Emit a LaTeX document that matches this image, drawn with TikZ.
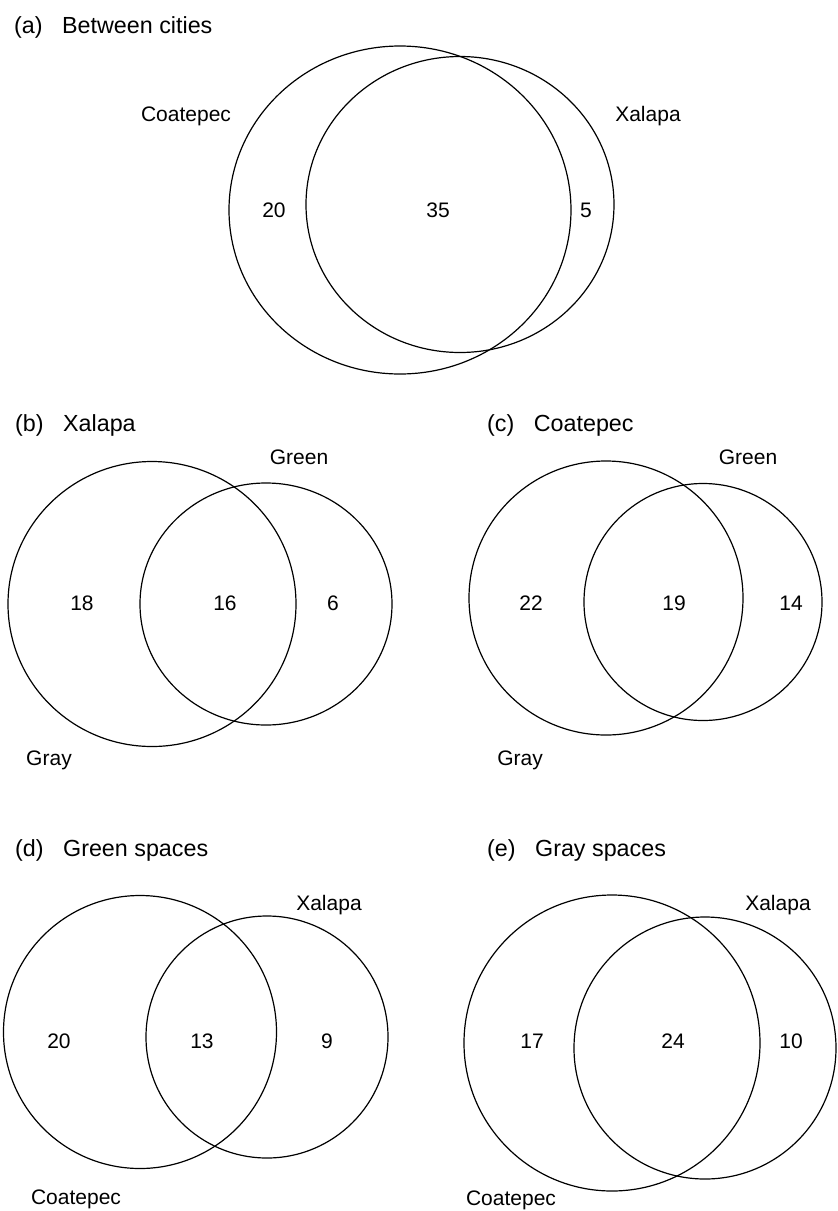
\documentclass[tikz,border=0pt]{standalone}
\usepackage{fontspec}
\setmainfont{Liberation Sans}
\usetikzlibrary{positioning}

\begin{document}
\begin{tikzpicture}[x=1pt, y=-1pt,
    set/.style={draw, line width=1.2pt},
    ttl/.style={anchor=base west, inner sep=0pt, font=\fontsize{23.3}{28}\selectfont},
    lbl/.style={anchor=base, inner sep=0pt, font=\fontsize{21}{25}\selectfont},
    num/.style={inner sep=0pt, font=\fontsize{21}{25}\selectfont}
]
\useasboundingbox (0,0) rectangle (838,1211);

% (a) between cities
\node[ttl] (ta) at (14,33) {(a)\hspace{19.5pt}Between cities};
\coordinate (aC) at (400,210);
\coordinate (aX) at (460,204.5);
\draw[set] (aC) ellipse [x radius=171pt, y radius=164pt];
\draw[set] (aX) ellipse [x radius=154pt, y radius=148pt];
\node[lbl] (aCl) at (186,121) {Coatepec};
\node[lbl] (aXl) at (648,121) {Xalapa};
\node[num] (aCn) at (274,210) {20};
\node[num] (aBn) at (438,210) {35};
\node[num] (aXn) at (586,210) {5};

% (b) Xalapa
\node[ttl] (tb) at (15,431) {(b)\hspace{19.5pt}Xalapa};
\coordinate (bG) at (152,604);
\coordinate (bV) at (266,604);
\draw[set] (bG) ellipse [x radius=144pt, y radius=142.5pt];
\draw[set] (bV) ellipse [x radius=126pt, y radius=121pt];
\node[lbl] (bVl) at (299,464) {Green};
\node[lbl] (bGl) at (49,765) {Gray};
\node[num] (bGn) at (82,603) {18};
\node[num] (bBn) at (225,603) {16};
\node[num] (bVn) at (333,603) {6};

% (c) Coatepec
\node[ttl] (tc) at (487,431) {(c)\hspace{19.5pt}Coatepec};
\coordinate (cG) at (606,598);
\coordinate (cV) at (703,602);
\draw[set] (cG) circle [radius=137pt];
\draw[set] (cV) ellipse [x radius=119pt, y radius=118.5pt];
\node[lbl] (cVl) at (748,464) {Green};
\node[lbl] (cGl) at (520,765) {Gray};
\node[num] (cGn) at (531,603) {22};
\node[num] (cBn) at (674,603) {19};
\node[num] (cVn) at (791,603) {14};

% (d) green spaces
\node[ttl] (td) at (15,856) {(d)\hspace{19.5pt}Green spaces};
\coordinate (dC) at (140,1032);
\coordinate (dX) at (267,1037);
\draw[set] (dC) circle [radius=136.5pt];
\draw[set] (dX) circle [radius=121pt];
\node[lbl] (dXl) at (329,910) {Xalapa};
\node[lbl] (dCl) at (76,1204) {Coatepec};
\node[num] (dCn) at (59,1041) {20};
\node[num] (dBn) at (202,1041) {13};
\node[num] (dXn) at (327,1041) {9};

% (e) gray spaces
\node[ttl] (te) at (487,856) {(e)\hspace{19.5pt}Gray spaces};
\coordinate (eC) at (612,1043);
\coordinate (eX) at (705,1048);
\draw[set] (eC) circle [radius=148pt];
\draw[set] (eX) circle [radius=131pt];
\node[lbl] (eXl) at (778,910) {Xalapa};
\node[lbl] (eCl) at (511,1205) {Coatepec};
\node[num] (eCn) at (532,1041) {17};
\node[num] (eBn) at (673,1041) {24};
\node[num] (eXn) at (791,1041) {10};
\end{tikzpicture}
\end{document}
